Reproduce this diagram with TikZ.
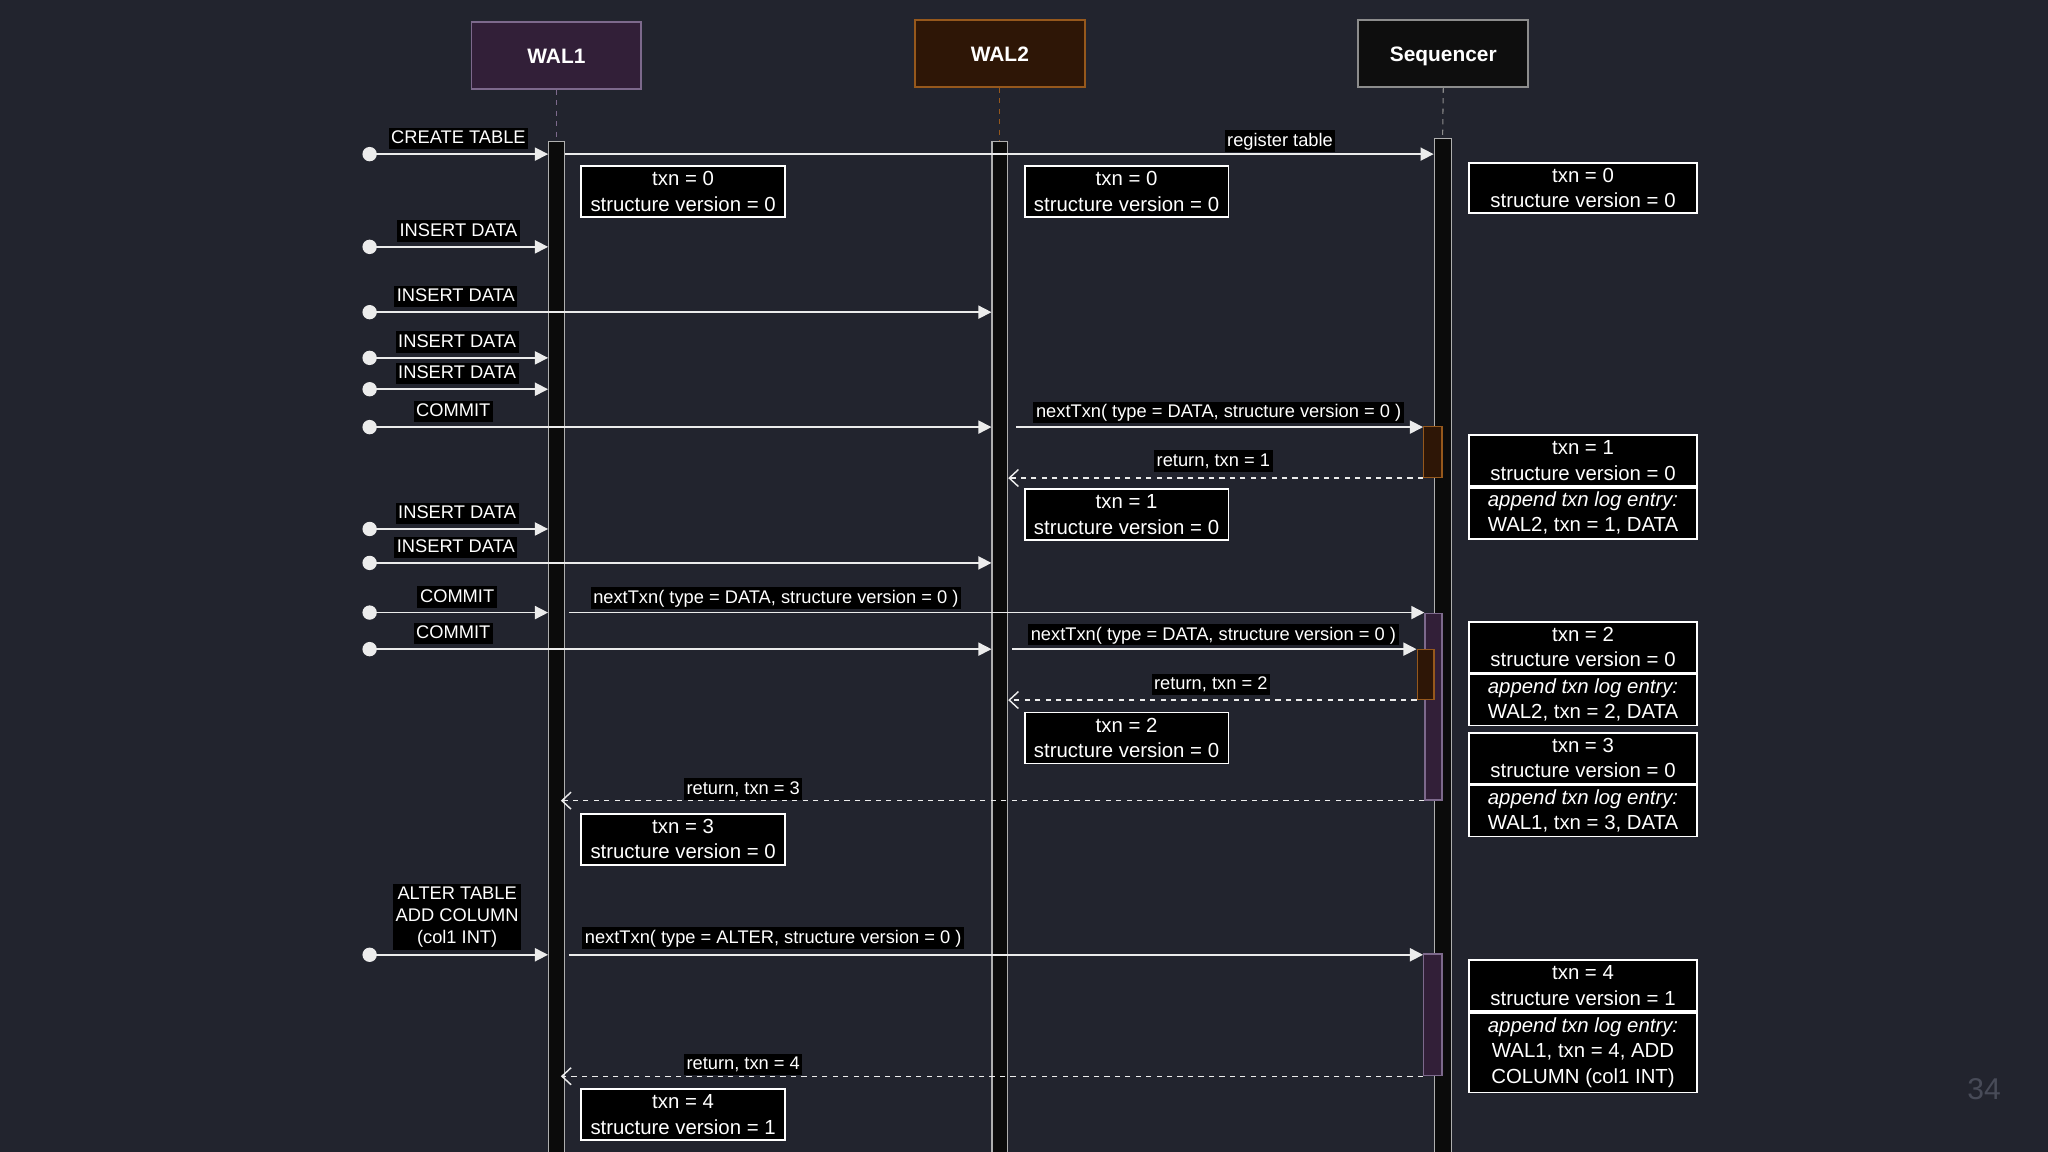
\documentclass[tikz,border=0pt]{standalone}
\usepackage{fontspec}
\setmainfont{Liberation Sans}
\usepackage{tikz}
\usetikzlibrary{positioning,arrows.meta,calc}
\definecolor{bgdark}{RGB}{34,36,46}
\definecolor{walonefill}{RGB}{50,31,56}
\definecolor{walonedraw}{RGB}{125,105,140}
\definecolor{waltwofill}{RGB}{46,22,6}
\definecolor{waltwodraw}{RGB}{150,88,28}
\definecolor{seqfill}{RGB}{14,14,14}
\definecolor{seqdraw}{RGB}{140,140,140}
\definecolor{barfill}{RGB}{11,11,11}
\definecolor{bargray}{RGB}{175,175,175}
\definecolor{msgline}{RGB}{236,236,236}
\definecolor{pagenum}{RGB}{72,75,88}

\begin{document}
\begin{tikzpicture}[x=0.5pt,y=-0.5pt,
  head/.style={draw,line width=0.7pt,minimum width=65pt,minimum height=25.5pt,text=white,text height=5.8pt,text depth=0pt,font=\bfseries\fontsize{8}{9.6}\selectfont},
  stem/.style={dashed,dash pattern=on 2pt off 2pt,line width=0.4pt},
  bar/.style={draw=bargray,fill=barfill,line width=0.4pt,anchor=north,inner sep=0pt,minimum width=6pt},
  act/.style={line width=0.5pt,anchor=north,inner sep=0pt},
  src/.style={circle,fill=msgline,minimum size=5.5pt,inner sep=0pt},
  msg/.style={draw=msgline,line width=0.6pt,-{Triangle[length=5pt,width=5pt]}},
  ret/.style={draw=msgline,line width=0.55pt,dash pattern=on 2pt off 2pt,-{Straight Barb[length=3.5pt,width=6.5pt]}},
  lbl/.style={fill=black,text=white,inner xsep=1pt,inner ysep=0.5pt,text height=5.6pt,text depth=1.6pt,font=\fontsize{7}{8.4}\selectfont},
  note/.style={draw=white,fill=black,text=white,line width=0.7pt,align=center,inner sep=0pt,minimum width=78pt,minimum height=19.5pt,font=\fontsize{7.8}{9.75}\selectfont},
  seqnote/.style={note,minimum width=87pt}]
\useasboundingbox[fill=bgdark] (0,0) rectangle (1568,882);
% Lifeline heads
\node[head,fill=walonefill,draw=walonedraw] (w1head) at (426,42.5) {WAL1};
\node[head,fill=waltwofill,draw=waltwodraw] (w2head) at (765.5,41) {WAL2};
\node[head,fill=seqfill,draw=seqdraw] (seqhead) at (1105,41) {Sequencer};
% Lifeline bars
\node[bar,minimum height=387pt] (w1bar) at (426,108) {};
\node[bar,minimum height=387pt] (w2bar) at (765.5,108) {};
\node[bar,minimum height=388pt,minimum width=6.5pt] (seqbar) at (1104.5,106) {};
\draw[stem,walonedraw] (w1head.south) -- (w1bar.north);
\draw[stem,waltwodraw] (w2head.south) -- (w2bar.north);
\draw[stem,seqdraw] (seqhead.south) -- (seqbar.north);
% Activations on the sequencer
\node[act,fill=walonefill,draw=walonedraw,minimum width=6.5pt,minimum height=71.5pt] (act2) at (1097.5,469) {};
\node[act,fill=walonefill,draw=walonedraw,minimum width=7pt,minimum height=46.5pt] (act4) at (1097,730) {};
\node[act,fill=waltwofill,draw=waltwodraw,minimum width=7pt,minimum height=19.5pt] (act1) at (1097,326) {};
\node[act,fill=waltwofill,draw=waltwodraw,minimum width=6.5pt,minimum height=19pt] (act3) at (1091.5,497) {};
% Client requests
\foreach \n/\y/\tgt/\lx/\txt in {1/118/w1bar/351/CREATE TABLE,2/189/w1bar/351/INSERT DATA,
    3/239/w2bar/349/INSERT DATA,4/274/w1bar/350/INSERT DATA,5/298/w1bar/350/INSERT DATA,
    6/327/w2bar/347/COMMIT,7/405/w1bar/350/INSERT DATA,8/431/w2bar/349/INSERT DATA,
    9/469/w1bar/350/COMMIT,10/497/w2bar/347/COMMIT}{
  \node[src] (d\n) at (283,\y) {};
  \draw[msg] (d\n.center) -- (d\n -| \tgt.west);
  \node[lbl] (l\n) at (\lx,\y-12) {\txt};
}
\node[src] (d11) at (283,731) {};
\draw[msg] (d11.center) -- (d11 -| w1bar.west);
\node[lbl,align=center,text height=,text depth=,inner sep=1pt,font=\fontsize{7}{8.5}\selectfont] (l11) at (350,702) {ALTER TABLE\\ADD COLUMN\\(col1 INT)};
% Calls to the sequencer
\draw[msg] (d1 -| w1bar.east) -- (d1 -| seqbar.west);
\node[lbl] (reg) at (980,108) {register table};
\draw[msg,shorten <=3pt] (d6 -| w2bar.east) -- (d6 -| act1.west);
\node[lbl] (call1) at (933,316) {nextTxn( type = DATA, structure version = 0 )};
\draw[ret] (act1.south west) -- (act1.south west -| w2bar.east);
\node[lbl] (ret1) at (929,353) {return, txn = 1};
\draw[msg,shorten <=1.5pt] (d9 -| w1bar.east) -- (d9 -| act2.west);
\node[lbl] (call2) at (594,458) {nextTxn( type = DATA, structure version = 0 )};
\draw[msg,shorten <=1.5pt] (d10 -| w2bar.east) -- (d10 -| act3.west);
\node[lbl] (call3) at (929,486) {nextTxn( type = DATA, structure version = 0 )};
\draw[ret] (act3.south west) -- (act3.south west -| w2bar.east);
\node[lbl] (ret2) at (927,524) {return, txn = 2};
\draw[ret,shorten >=-1.5pt] (act2.south west) -- (act2.south west -| w1bar.east);
\node[lbl] (ret3) at (569,604) {return, txn = 3};
\draw[msg,shorten <=1.5pt] (d11 -| w1bar.east) -- (d11 -| act4.west);
\node[lbl] (call4) at (592,718) {nextTxn( type = ALTER, structure version = 0 )};
\draw[ret,shorten >=-1.5pt] (act4.south west) -- (act4.south west -| w1bar.east);
\node[lbl] (ret4) at (569,815) {return, txn = 4};
% State notes on the WALs
\node[note] (w1n0) at (523,146.5) {txn = 0\\structure version = 0};
\node[note] (w2n0) at (862.5,146.5) {txn = 0\\structure version = 0};
\node[note] (w2n1) at (862.5,394) {txn = 1\\structure version = 0};
\node[note] (w2n2) at (862.5,565) {txn = 2\\structure version = 0};
\node[note] (w1n3) at (523,642.5) {txn = 3\\structure version = 0};
\node[note] (w1n4) at (523,853.5) {txn = 4\\structure version = 1};
% State notes on the sequencer
\node[seqnote,minimum height=19pt] (sn0) at (1212,144) {txn = 0\\structure version = 0};
\node[seqnote] (sn1a) at (1212,352.5) {txn = 1\\structure version = 0};
\node[seqnote,below=0pt of sn1a] (sn1b) {\textit{append txn log entry:}\\WAL2, txn = 1, DATA};
\node[seqnote] (sn2a) at (1212,495.5) {txn = 2\\structure version = 0};
\node[seqnote,below=0pt of sn2a] (sn2b) {\textit{append txn log entry:}\\WAL2, txn = 2, DATA};
\node[seqnote] (sn3a) at (1212,580.5) {txn = 3\\structure version = 0};
\node[seqnote,below=0pt of sn3a] (sn3b) {\textit{append txn log entry:}\\WAL1, txn = 3, DATA};
\node[seqnote] (sn4a) at (1212,754.5) {txn = 4\\structure version = 1};
\node[seqnote,below=0pt of sn4a,minimum height=30.5pt] (sn4b) {\textit{append txn log entry:}\\WAL1, txn = 4, ADD\\COLUMN (col1 INT)};
% Slide number
\node[text=pagenum,font=\fontsize{11.5}{13}\selectfont] (pnum) at (1519,834) {34};
\end{tikzpicture}
\end{document}
